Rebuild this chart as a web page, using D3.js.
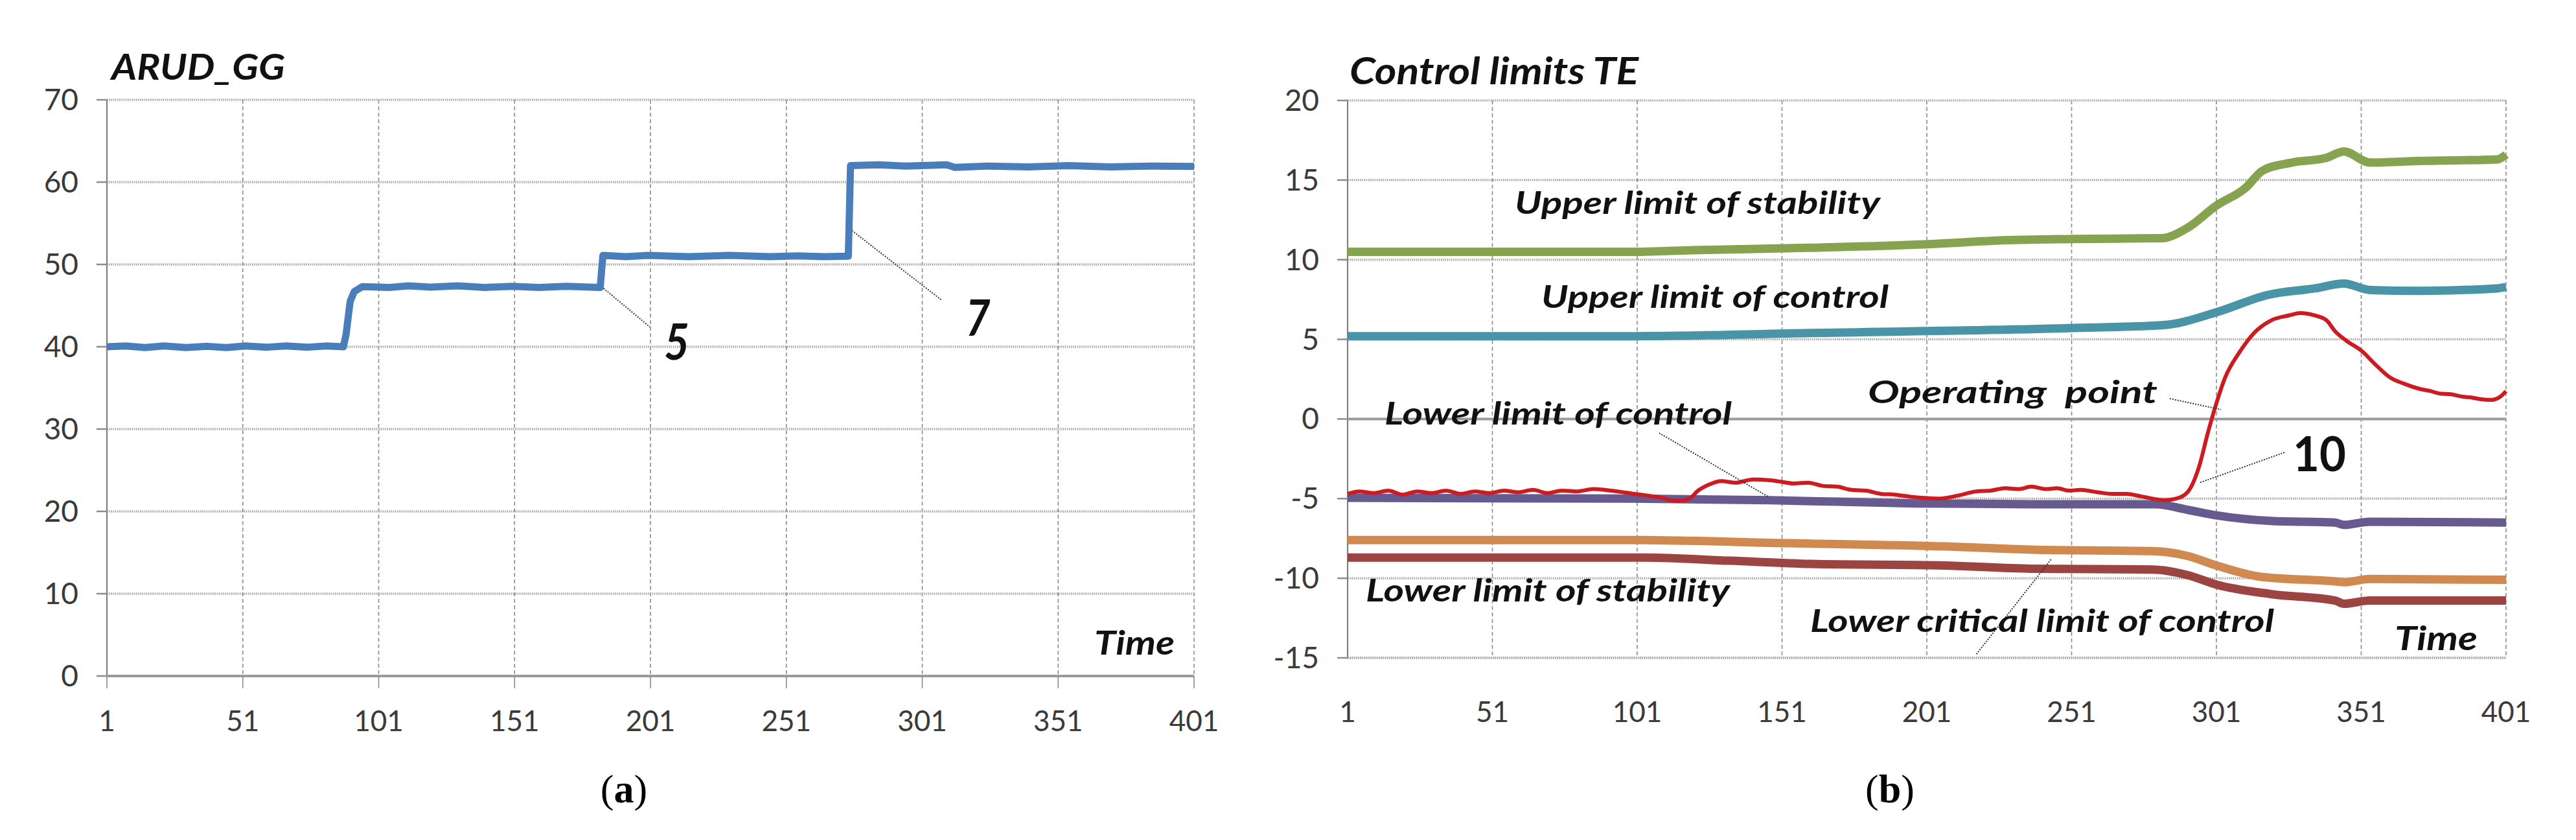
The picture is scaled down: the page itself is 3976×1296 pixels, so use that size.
<!DOCTYPE html>
<html>
<head>
<meta charset="utf-8">
<script src="https://cdn.jsdelivr.net/npm/d3@7"></script>
<style>
  body { margin: 0; background: #fff; }
  text { font-family: Lato, "Open Sans", sans-serif; }
</style>
</head>
<body>
<div class="chart"></div>
<script>
// ---- data ----
const timeTicks = [1, 51, 101, 151, 201, 251, 301, 351, 401];
const ticksA = [0, 10, 20, 30, 40, 50, 60, 70];
const ticksB = [-15, -10, -5, 0, 5, 10, 15, 20];

// panel (a): ARUD_GG  [time, value]
const arudGG = [
  [1, 40], [8, 40.1], [15, 39.9], [22, 40.1], [30, 39.9], [38, 40.05], [45, 39.9],
  [52, 40.1], [60, 39.95], [67, 40.1], [75, 39.95], [82, 40.1], [88, 40],
  [89, 41.5], [90.5, 45.5], [92, 46.7], [95, 47.3], [105, 47.2], [112, 47.4], [120, 47.25],
  [130, 47.4], [140, 47.2], [150, 47.35], [160, 47.2], [170, 47.35], [182.5, 47.2],
  [183.5, 51.1], [192, 50.95], [200, 51.1], [215, 50.95], [230, 51.1], [245, 50.95],
  [255, 51.05], [265, 50.95], [273.8, 51.0], [274.6, 62.0], [285, 62.1], [295, 61.95],
  [310, 62.1], [313, 61.8], [325, 61.95], [340, 61.85], [355, 62.0], [370, 61.85],
  [385, 61.95], [401, 61.9]
];

// panel (b): control limits TE  [time, value]
const upperStability = [
  [1, 10.5], [100, 10.5], [120, 10.6], [160, 10.75], [204, 11.0], [225, 11.2],
  [251, 11.3], [282, 11.35], [291, 12.0], [301, 13.4], [311, 14.5], [317, 15.6],
  [327, 16.1], [339, 16.4], [345, 16.8], [354, 16.1], [371, 16.2], [398, 16.3], [401, 16.6]
];
const upperControl = [
  [1, 5.2], [100, 5.2], [161, 5.4], [250, 5.7], [283, 5.9], [301, 6.7], [319, 7.8],
  [335, 8.2], [345, 8.5], [354, 8.1], [371, 8.05], [398, 8.2], [401, 8.3]
];
const lowerControl = [
  [1, -4.95], [100, -5.0], [147, -5.1], [197, -5.3], [237, -5.35], [280, -5.35],
  [291, -5.7], [301, -6.05], [320, -6.4], [342, -6.5], [345, -6.65], [354, -6.45], [401, -6.5]
];
const lowerCritical = [
  [1, -7.6], [97, -7.6], [154, -7.8], [207, -8.0], [237, -8.2], [279, -8.3], [291, -8.6],
  [301, -9.2], [316, -9.9], [342, -10.2], [345, -10.25], [354, -10.05], [401, -10.1]
];
const lowerStability = [
  [1, -8.7], [104, -8.7], [133, -8.9], [161, -9.1], [207, -9.2], [237, -9.4], [279, -9.45],
  [291, -9.8], [301, -10.4], [320, -11.0], [342, -11.4], [345, -11.6], [354, -11.4], [401, -11.4]
];
const operatingPoint = [
  [1, -4.7], [5, -4.55], [10, -4.65], [15, -4.5], [20, -4.75], [25, -4.55], [30, -4.65],
  [35, -4.5], [40, -4.7], [45, -4.55], [50, -4.65], [55, -4.5], [60, -4.6], [65, -4.45],
  [70, -4.65], [75, -4.5], [80, -4.55], [86, -4.4], [92, -4.5], [100, -4.7], [108, -4.9],
  [115, -5.15], [119, -5.0], [122, -4.5], [126, -4.1], [130, -3.9], [135, -4.0],
  [141, -3.8], [147, -3.85], [151, -3.95], [155, -4.05], [160, -4.0], [165, -4.2],
  [170, -4.25], [175, -4.45], [180, -4.5], [185, -4.7], [190, -4.75], [196, -4.9],
  [205, -5.0], [212, -4.8], [218, -4.55], [223, -4.5], [228, -4.35], [233, -4.4],
  [237, -4.25], [242, -4.4], [246, -4.35], [250, -4.5], [254, -4.45], [260, -4.6],
  [265, -4.7], [270, -4.7], [276, -4.9], [283, -5.1], [287, -5.0], [291, -4.6],
  [295, -3.0], [298, -0.9], [301, 1.0], [304, 2.6], [309, 4.2], [314, 5.4], [320, 6.2],
  [326, 6.5], [330, 6.65], [335, 6.5], [339, 6.2], [342, 5.5], [346, 4.9], [351, 4.3],
  [356, 3.4], [361, 2.6], [366, 2.2], [371, 1.9], [375, 1.75], [378, 1.6], [382, 1.55],
  [386, 1.4], [389, 1.35], [392, 1.25], [396, 1.2], [399, 1.4], [401, 1.75]
];

const width = 3976;
const height = 1296;

const svg = d3.select(".chart")
  .append("svg")
  .attr("width", width)
  .attr("height", height)
  .style("display", "block");

svg.append("rect").attr("width", width).attr("height", height).attr("fill", "#fff");

// draws the grid, axes and tick labels of one panel
function drawFrame(g, x, y, yTicks, zeroLine, xLabelY) {
  const [x0, x1] = x.range();
  const [yb, yt] = y.range();

  // vertical dashed grid
  g.append("g")
    .selectAll("line")
    .data(timeTicks.slice(1))
    .join("line")
    .attr("x1", (d) => x(d)).attr("x2", (d) => x(d))
    .attr("y1", yt).attr("y2", yb)
    .attr("stroke", "#8c8c8c")
    .attr("stroke-width", 1.6)
    .attr("stroke-dasharray", "6,4");

  // horizontal dotted grid
  g.append("g")
    .selectAll("line")
    .data(yTicks.filter((d) => d !== zeroLine))
    .join("line")
    .attr("x1", x0).attr("x2", x1)
    .attr("y1", (d) => y(d)).attr("y2", (d) => y(d))
    .attr("stroke", "#a6a6a6")
    .attr("stroke-width", 3.5)
    .attr("stroke-dasharray", "1.6,1.6");

  // value axis
  g.append("line")
    .attr("x1", x0).attr("x2", x0).attr("y1", yt).attr("y2", yb)
    .attr("stroke", "#7f7f7f").attr("stroke-width", 2.2);
  g.append("g")
    .selectAll("line")
    .data(yTicks)
    .join("line")
    .attr("x1", x0 - 16).attr("x2", x0)
    .attr("y1", (d) => y(d)).attr("y2", (d) => y(d))
    .attr("stroke", "#8c8c8c").attr("stroke-width", 2.5);

  // category axis line at zero
  g.append("line")
    .attr("x1", x0).attr("x2", x1)
    .attr("y1", y(zeroLine)).attr("y2", y(zeroLine))
    .attr("stroke", "#9a9a9a").attr("stroke-width", 4);

  g.append("g")
    .attr("text-anchor", "end")
    .attr("font-size", 46)
    .attr("fill", "#3a3a3a")
    .selectAll("text")
    .data(yTicks)
    .join("text")
    .attr("x", x0 - 44)
    .attr("y", (d) => y(d) + 16)
    .text((d) => d);

  g.append("g")
    .attr("text-anchor", "middle")
    .attr("font-size", 44)
    .attr("fill", "#3a3a3a")
    .selectAll("text")
    .data(timeTicks)
    .join("text")
    .attr("x", (d) => x(d))
    .attr("y", xLabelY)
    .text((d) => d);
}

const line = (x, y, curve) =>
  d3.line().x((d) => x(d[0])).y((d) => y(d[1])).curve(curve);

// bold (italic) annotation; len stretches the text to the width seen in the picture
function label(g, txt, px, py, size, len, italic) {
  return g.append("text")
    .attr("x", px).attr("y", py)
    .attr("font-size", size)
    .attr("font-weight", "bold")
    .attr("font-style", italic === false ? "normal" : "italic")
    .attr("fill", "#111")
    .attr("textLength", len)
    .attr("lengthAdjust", "spacingAndGlyphs")
    .style("white-space", "pre")
    .text(txt);
}

function leader(g, p, q) {
  g.append("line")
    .attr("x1", p[0]).attr("y1", p[1]).attr("x2", q[0]).attr("y2", q[1])
    .attr("stroke", "#333").attr("stroke-width", 2).attr("stroke-dasharray", "2,2");
}

// ---------- panel (a) ----------
const xa = d3.scaleLinear().domain([1, 401]).range([165, 1843]);
const ya = d3.scaleLinear().domain([0, 70]).range([1043, 154]);
const ga = svg.append("g");
drawFrame(ga, xa, ya, ticksA, 0, 1128);
// x tick marks below axis
ga.append("g").selectAll("line").data(timeTicks).join("line")
  .attr("x1", (d) => xa(d)).attr("x2", (d) => xa(d))
  .attr("y1", ya(0)).attr("y2", ya(0) + 19)
  .attr("stroke", "#8c8c8c").attr("stroke-width", 1.6);

leader(ga, [xa(183), ya(47.3)], [xa(200.8), ya(42.4)]);
leader(ga, [xa(274.4), ya(54.3)], [xa(308), ya(45.7)]);

ga.append("path")
  .datum(arudGG)
  .attr("fill", "none")
  .attr("stroke", "#4a7ebb")
  .attr("stroke-width", 11)
  .attr("stroke-linejoin", "round")
  .attr("d", line(xa, ya, d3.curveLinear));

label(ga, "ARUD_GG", 172, 123, 56, 268);
label(ga, "5", xa(206), ya(38.4), 76, 39);
label(ga, "7", xa(317), ya(41.3), 76, 38);
label(ga, "Time", 1689, ya(2.6), 52, 124);

// ---------- panel (b) ----------
const xb = d3.scaleLinear().domain([1, 401]).range([2080, 3868]);
const yb = d3.scaleLinear().domain([-15, 20]).range([1015, 155]);
const gb = svg.append("g");
drawFrame(gb, xb, yb, ticksB, 0, 1114);
// dotted bottom edge
gb.append("line")
  .attr("x1", xb(1)).attr("x2", xb(401)).attr("y1", yb(-15)).attr("y2", yb(-15))
  .attr("stroke", "#a6a6a6").attr("stroke-width", 3.5).attr("stroke-dasharray", "1.6,1.6");

const limitSeries = [
  { data: upperStability, color: "#86a44f" },
  { data: upperControl, color: "#4a94a8" },
  { data: lowerControl, color: "#675a8e" },
  { data: lowerCritical, color: "#d08a4f" },
  { data: lowerStability, color: "#9c4442" }
];

gb.append("g")
  .selectAll("path")
  .data(limitSeries)
  .join("path")
  .attr("fill", "none")
  .attr("stroke", (d) => d.color)
  .attr("stroke-width", 13)
  .attr("stroke-linejoin", "round")
  .attr("d", (d) => line(xb, yb, d3.curveMonotoneX)(d.data));

gb.append("path")
  .datum(operatingPoint)
  .attr("fill", "none")
  .attr("stroke", "#cc1c22")
  .attr("stroke-width", 6)
  .attr("stroke-linejoin", "round")
  .attr("d", line(xb, yb, d3.curveMonotoneX));

leader(gb, [xb(108.6), yb(-0.88)], [xb(146.4), yb(-4.9)]);
leader(gb, [xb(284.9), yb(1.28)], [xb(302.6), yb(0.59)]);
leader(gb, [xb(324.5), yb(-2.1)], [xb(295.2), yb(-4.0)]);
leader(gb, [xb(243.9), yb(-8.82)], [xb(218), yb(-14.8)]);

label(gb, "Control limits TE", 2083, 130, 57, 446);
label(gb, "Upper limit of stability", 2338, 330, 48, 564);
label(gb, "Upper limit of control", 2379, 475, 48, 536);
label(gb, "Lower limit of control", 2137, 655, 48, 536);
label(gb, "Lower limit of stability", 2108, 928, 48, 562);
label(gb, "Lower critical limit of control", 2794, 975, 48, 716);
label(gb, "Operating  point", 2883, 622, 48, 447);
label(gb, "10", 3539, 727, 74, 82, false);
label(gb, "Time", 3696, 1003, 52, 128);

// ---------- captions ----------
const captions = [["a", 963], ["b", 2917]];
svg.append("g")
  .selectAll("text")
  .data(captions)
  .join("text")
  .attr("x", (d) => d[1])
  .attr("y", 1238)
  .attr("text-anchor", "middle")
  .attr("font-size", 62)
  .style("font-family", "'Liberation Serif', serif")
  .call((t) => t.append("tspan").text("("))
  .call((t) => t.append("tspan").attr("font-weight", "bold").text((d) => d[0]))
  .call((t) => t.append("tspan").text(")"));
</script>
</body>
</html>
